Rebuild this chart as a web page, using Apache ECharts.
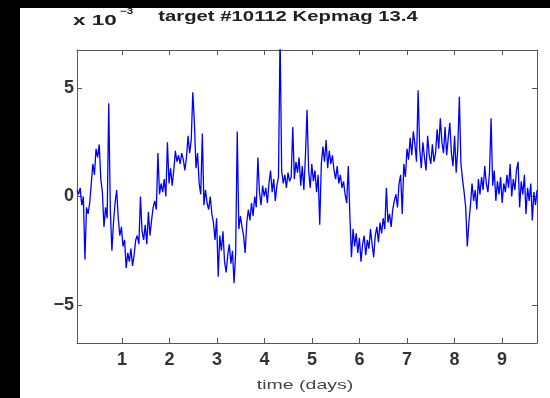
<!DOCTYPE html>
<html>
<head>
<meta charset="utf-8">
<script src="https://cdn.jsdelivr.net/npm/echarts@6/dist/echarts.min.js"></script>
<style>
  html, body { margin: 0; padding: 0; background: #000; width: 550px; height: 398px; overflow: hidden; }
  #chart { position: absolute; left: 20px; top: 8px; width: 530px; height: 390px; background: #fff; }
</style>
</head>
<body>
<div id="chart"></div>
<script>
// Title and axis texts
const titleText = 'target #10112 Kepmag 13.4';
const xAxisTitle = 'time (days)';
const yScaleText = 'x 10';
const yScaleExp = '\u22123';

// Time axis (days)
const startDay = 0.053;
const cadenceDays = 0.0334;
const xMin = 0.053;
const xMax = 9.737;
const xTickValues = [1, 2, 3, 4, 5, 6, 7, 8, 9];

// Relative flux (x 10^-3)
const yMin = -6.75;
const yMax = 6.75;
const yTickValues = [-5, 0, 5];

const fluxE3 = [
  0.3, 0.1, 0.4, -0.4, 0.0, -2.9, -0.5, -0.8, -0.3, 0.6, 1.5, 1.0, 2.2, 1.8, 2.4,
  0.8, 0.2, -1.4, -0.5, -1.0, 4.3, -0.6, -2.5, -1.2, -0.3, 0.3, -1.0, -1.8, -1.4, -2.3,
  -2.0, -3.3, -2.6, -3.0, -2.4, -3.2, -2.7, -2.0, -1.8, -2.2, 0.0, -1.6, -2.0, -1.3, -2.2,
  -0.7, -1.8, -1.1, -0.5, -0.2, -0.6, 2.0, 0.1, 0.6, 0.2, 0.8, 0.0, 2.5, 0.6, 1.3,
  0.5, 1.2, 2.1, 1.6, 1.9, 1.5, 2.0, 1.7, 1.2, 1.8, 2.8, 2.0, 2.6, 4.8, 3.4,
  1.3, 2.0, 0.6, 0.1, 2.9, -0.4, 0.3, -0.3, -0.6, 0.0, -0.8, -1.2, -2.0, -1.0, -3.7,
  -1.8, -2.5, -1.6, -3.0, -3.5, -2.7, -2.2, -3.1, -2.5, -4.0, -2.6, 3.0, -1.5, -0.9, -1.4,
  -1.8, -2.6, -1.2, -0.6, -1.1, -0.3, -0.9, 0.0, -0.5, 1.8, 0.2, -0.4, 0.5, 0.0, 0.4,
  -0.3, 0.6, 1.2, 0.2, 0.8, -0.2, 0.5, 0.9, 7.5, 1.2, 0.6, 1.0, 0.4, 1.1, 0.7,
  0.9, 3.2, 0.8, 1.6, 1.1, 1.8, 0.5, 1.4, 0.3, 1.9, 4.0, 1.2, 0.4, 1.5, 0.7,
  1.2, 0.2, 1.0, -1.3, 1.5, 2.3, 1.6, 2.6, 1.3, 2.1, 1.5, 1.9, 1.2, 0.8, 1.4,
  0.6, 1.0, 0.4, 0.7, 0.1, -0.3, 1.4, -0.9, -2.8, -1.5, -2.3, -1.7, -2.6, -1.9, -3.0,
  -2.2, -1.8, -2.7, -2.0, -2.4, -1.5, -2.2, -2.8, -1.8, -1.4, -2.1, -1.2, -1.7, -1.0, -1.5,
  0.4, -1.2, -0.8, -1.4, -0.6, -0.2, 0.1, -0.5, 0.6, 1.0, -0.8, 1.5, 0.9, 2.2, 1.7,
  2.7, 1.9, 3.0, 2.4, 1.6, 4.9, 2.2, 1.3, 2.5, 1.8, 1.2, 2.8, 1.9, 1.5, 2.4,
  1.6, 2.0, 3.1, 2.2, 3.6, 2.5, 2.0, 3.2, 1.9, 2.7, 3.4, 2.0, 1.4, 2.8, 1.1,
  2.2, 4.6, 1.5, 0.8, 0.2, -0.5, -2.3, -1.2, -0.4, 0.6, -0.2, 0.3, -0.6, 0.8, 0.1,
  0.9, 0.3, 1.4, 0.6, 0.2, 1.1, 3.6, 0.5, 1.2, -0.2, 0.7, 0.1, 0.9, -0.3, 0.6,
  0.2, 1.0, 0.4, 1.5, 0.0, 0.8, 0.3, 1.2, 1.6, -0.5, 0.7, 0.1, 1.0, -0.8, 0.4,
  -0.2, 0.6, -1.1, 0.2, -0.4, 0.3
];

const seriesData = fluxE3.map((v, i) => [startDay + i * cadenceDays, v]);

const axisColor = '#555';
const labelFont = { fontFamily: 'Liberation Sans, Arial, sans-serif', fontSize: 18, fontWeight: 'bold', color: '#333' };

const chart = echarts.init(document.getElementById('chart'), null, { renderer: 'canvas' });
chart.setOption({
  animation: false,
  backgroundColor: '#fff',
  grid: { left: 57, right: 13, top: 42, bottom: 55, containLabel: false },
  xAxis: [
    {
      type: 'value', min: xMin, max: xMax, position: 'bottom',
      axisLine: { show: true, onZero: false, lineStyle: { color: axisColor, width: 1 } },
      axisTick: { show: true, inside: true, length: 5, customValues: xTickValues, lineStyle: { color: axisColor } },
      axisLabel: Object.assign({ show: true, margin: 8, customValues: xTickValues }, labelFont),
      splitLine: { show: false }
    },
    {
      type: 'value', min: xMin, max: xMax, position: 'top',
      axisLine: { show: true, onZero: false, lineStyle: { color: axisColor, width: 1 } },
      axisTick: { show: true, inside: true, length: 5, customValues: xTickValues, lineStyle: { color: axisColor } },
      axisLabel: { show: false },
      splitLine: { show: false }
    }
  ],
  yAxis: [
    {
      type: 'value', min: yMin, max: yMax, position: 'left',
      axisLine: { show: true, onZero: false, lineStyle: { color: axisColor, width: 1 } },
      axisTick: { show: true, inside: true, length: 5, customValues: yTickValues, lineStyle: { color: axisColor } },
      axisLabel: Object.assign({ show: true, margin: 3, customValues: yTickValues,
        formatter: v => String(v).replace('-', '\u2212') }, labelFont),
      splitLine: { show: false }
    },
    {
      type: 'value', min: yMin, max: yMax, position: 'right',
      axisLine: { show: true, onZero: false, lineStyle: { color: axisColor, width: 1 } },
      axisTick: { show: true, inside: true, length: 5, customValues: yTickValues, lineStyle: { color: axisColor } },
      axisLabel: { show: false },
      splitLine: { show: false }
    }
  ],
  graphic: [
    {
      type: 'text', x: 268, y: 9, scaleX: 1.45,
      style: { text: titleText, font: 'bold 14px "Liberation Sans", Arial, sans-serif', fill: '#222',
               textAlign: 'center', textVerticalAlign: 'middle' }
    },
    {
      type: 'text', x: 53, y: 13, scaleX: 1.5,
      style: { text: yScaleText, font: 'bold 15px "Liberation Sans", Arial, sans-serif', fill: '#222',
               textAlign: 'left', textVerticalAlign: 'middle' }
    },
    {
      type: 'text', x: 100, y: 4, scaleX: 1.3,
      style: { text: yScaleExp, font: 'bold 9px "Liberation Sans", Arial, sans-serif', fill: '#222',
               textAlign: 'left', textVerticalAlign: 'middle' }
    },
    {
      type: 'text', x: 285, y: 377, scaleX: 1.5,
      style: { text: xAxisTitle, font: '13px "Liberation Sans", Arial, sans-serif', fill: '#444',
               textAlign: 'center', textVerticalAlign: 'middle' }
    }
  ],
  series: [
    {
      type: 'line', xAxisIndex: 0, yAxisIndex: 0,
      data: seriesData, showSymbol: false, symbol: 'none',
      lineStyle: { color: '#0000ff', width: 1.3 },
      clip: true
    }
  ]
});
</script>
</body>
</html>
